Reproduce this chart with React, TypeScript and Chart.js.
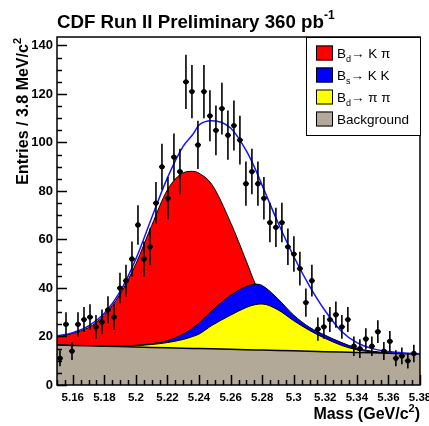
import React, { useEffect, useRef } from 'react';
import { Chart, registerables } from 'chart.js';

Chart.register(...registerables);

// ---------- data ----------
const BIN_START = 5.15;
const BIN_WIDTH = 0.0038;
const counts = [
  11, 25, 14, 25, 27, 28, 24, 26, 31, 28,
  40, 43, 52, 66, 52, 57, 75, 90, 77, 94,
  88, 125, 121, 99, 121, 111, 105, 114, 103, 107,
  101, 83, 88, 83, 77, 67, 65, 67, 57, 54,
  48, 34, 43, 23, 24, 27, 29, 24, 27, 16,
  15, 19, 16, 22, 14, 18, 11, 12, 10, 13,
];

const gridX = [5.15, 5.16, 5.17, 5.18, 5.19, 5.2, 5.21, 5.22, 5.23, 5.236, 5.24, 5.248, 5.26, 5.27, 5.276, 5.28, 5.29, 5.3, 5.31, 5.32, 5.33, 5.34, 5.35, 5.36, 5.37, 5.38];
const bkgY = [16.5, 16.3, 16.2, 16.0, 15.9, 15.7, 15.5, 15.4, 15.2, 15.1, 15.0, 14.9, 14.7, 14.5, 14.45, 14.4, 14.2, 14.1, 13.9, 13.7, 13.6, 13.4, 13.3, 13.1, 12.9, 12.8];
const pipiY = [16.5, 16.3, 16.2, 16.0, 16.0, 16.2, 16.7, 17.5, 18.8, 20.0, 21.0, 24.5, 28.8, 32.0, 33.2, 33.4, 31.0, 26.5, 22.5, 19.2, 16.4, 14.5, 13.6, 13.2, 12.9, 12.8];
const kkY = [16.5, 16.3, 16.2, 16.1, 16.1, 16.4, 17.0, 18.3, 21.0, 23.5, 25.5, 30.5, 37.0, 40.6, 41.6, 41.0, 35.5, 28.8, 23.8, 20.5, 17.6, 15.2, 13.9, 13.3, 12.95, 12.8];
const kpiY = [19.8, 21.3, 23.7, 28.8, 37.5, 50.0, 65.8, 80.5, 87.5, 88.1, 87.3, 82.8, 67.0, 51.0, 41.2, 37.0, 27.0, 20.5, 17.0, 15.3, 14.5, 13.8, 13.4, 13.1, 12.9, 12.8];
const fitY = [20.2, 21.6, 24.4, 29.6, 38.5, 52.0, 69.0, 85.5, 98.5, 103.3, 107.2, 109.0, 106.0, 96.5, 88.5, 82.3, 67.0, 53.0, 40.8, 30.5, 22.3, 17.5, 15.0, 13.8, 13.2, 12.9];

const xMajorTicks = [5.16, 5.18, 5.2, 5.22, 5.24, 5.26, 5.28, 5.3, 5.32, 5.34, 5.36, 5.38];
const yMajorTicks = [0, 20, 40, 60, 80, 100, 120, 140];
const X_MIN = 5.15;
const X_MAX = 5.38;
const Y_MIN = 0;
const Y_MAX = 143.5;
const X_MINOR_STEP = 0.005;
const Y_MINOR_STEP = 5;

const RED = '#ff0000';
const BLUE = '#0000ff';
const YELLOW = '#ffff00';
const TAN = '#b3a999';
const FIT = '#1414ff';

const legendItems = [
  { main: 'B', sub: 'd', rest: '\u2192 K \u03c0', color: RED },
  { main: 'B', sub: 's', rest: '\u2192 K K', color: BLUE },
  { main: 'B', sub: 'd', rest: '\u2192 \u03c0 \u03c0', color: YELLOW },
  { main: 'Background', sub: '', rest: '', color: TAN },
];

const TITLE = 'CDF Run II Preliminary 360 pb';
const TITLE_SUP = '-1';
const X_TITLE = ['Mass (GeV/c', '2', ')'];
const Y_TITLE = ['Entries / 3.8 MeV/c', '2'];

const FONT = '"Liberation Sans", Arial, Helvetica, sans-serif';

type Part = { t: string; size: number; bold?: boolean; dy?: number };

function partsWidth(ctx: CanvasRenderingContext2D, parts: Part[]) {
  let w = 0;
  for (const p of parts) {
    ctx.font = `${p.bold ? 'bold ' : ''}${p.size}px ${FONT}`;
    w += ctx.measureText(p.t).width;
  }
  return w;
}
function drawParts(ctx: CanvasRenderingContext2D, x: number, y: number, parts: Part[]) {
  let cx = x;
  for (const p of parts) {
    ctx.font = `${p.bold ? 'bold ' : ''}${p.size}px ${FONT}`;
    ctx.fillText(p.t, cx, y + (p.dy || 0));
    cx += ctx.measureText(p.t).width;
  }
}

const curve = (ys: number[]) => gridX.map((x, i) => ({ x, y: ys[i] }));

const rootStyle = {
  id: 'rootStyle',
  afterDatasetsDraw(chart: any) {
    const ctx: CanvasRenderingContext2D = chart.ctx;
    const xs = chart.scales.x;
    const ys = chart.scales.y;
    ctx.save();
    ctx.strokeStyle = '#000';
    ctx.lineWidth = 1.6;
    counts.forEach((c, i) => {
      const xc = BIN_START + (i + 0.5) * BIN_WIDTH;
      const px = xs.getPixelForValue(xc);
      const py = ys.getPixelForValue(c);
      const e = Math.sqrt(c);
      ctx.beginPath();
      ctx.moveTo(px, ys.getPixelForValue(c - e));
      ctx.lineTo(px, ys.getPixelForValue(c + e));
      ctx.moveTo(xs.getPixelForValue(xc - BIN_WIDTH / 2), py);
      ctx.lineTo(xs.getPixelForValue(xc + BIN_WIDTH / 2), py);
      ctx.stroke();
    });
    ctx.restore();
  },
  afterDraw(chart: any) {
    const ctx: CanvasRenderingContext2D = chart.ctx;
    const xs = chart.scales.x;
    const ys = chart.scales.y;
    const a = chart.chartArea;
    ctx.save();
    ctx.strokeStyle = '#000';
    ctx.fillStyle = '#000';
    // ticks
    ctx.lineWidth = 1.5;
    ctx.beginPath();
    for (let v = Y_MIN; v <= Y_MAX + 1e-9; v += Y_MINOR_STEP) {
      const major = yMajorTicks.some((t) => Math.abs(t - v) < 1e-6);
      const py = Math.round(ys.getPixelForValue(v)) + 0.5;
      ctx.moveTo(a.left, py);
      ctx.lineTo(a.left + (major ? 10 : 5), py);
    }
    const nMinor = Math.round((X_MAX - X_MIN) / X_MINOR_STEP);
    for (let k = 0; k <= nMinor; k++) {
      const v = X_MIN + k * X_MINOR_STEP;
      const major = xMajorTicks.some((t) => Math.abs(t - v) < 1e-6);
      const px = Math.round(xs.getPixelForValue(v)) + 0.5;
      ctx.moveTo(px, a.bottom);
      ctx.lineTo(px, a.bottom - (major ? 10 : 5));
    }
    ctx.stroke();
    // frame
    ctx.lineWidth = 1.5;
    ctx.strokeRect(a.left, a.top, a.right - a.left, a.bottom - a.top);

    // legend
    const lx = 306;
    const lw = a.right - lx;
    const lt = a.top;
    const lh = 98;
    ctx.fillStyle = '#fff';
    ctx.fillRect(lx, lt, lw, lh);
    ctx.lineWidth = 1;
    ctx.strokeRect(lx + 0.5, lt + 0.5, lw, lh);
    legendItems.forEach((it, i) => {
      const cy = 53 + i * 22;
      ctx.fillStyle = it.color;
      ctx.fillRect(316, cy - 7.5, 17, 15);
      ctx.strokeStyle = '#000';
      ctx.lineWidth = 1;
      ctx.strokeRect(316.5, cy - 7, 16, 14);
      ctx.fillStyle = '#000';
      ctx.textBaseline = 'alphabetic';
      const parts: Part[] = [{ t: it.main, size: 13.5 }];
      if (it.sub) parts.push({ t: it.sub, size: 9, dy: 4 });
      if (it.rest) parts.push({ t: it.rest, size: 13.5 });
      drawParts(ctx, 337, cy + 5, parts);
    });

    // title
    ctx.fillStyle = '#000';
    ctx.textBaseline = 'alphabetic';
    const tParts: Part[] = [
      { t: TITLE, size: 18.7, bold: true },
      { t: TITLE_SUP, size: 12, bold: true, dy: -9 },
    ];
    drawParts(ctx, 57, 28, tParts);

    // x title
    const xParts: Part[] = [
      { t: X_TITLE[0], size: 16, bold: true },
      { t: X_TITLE[1], size: 11, bold: true, dy: -7 },
      { t: X_TITLE[2], size: 16, bold: true },
    ];
    const xw = partsWidth(ctx, xParts);
    drawParts(ctx, a.right - xw, 419, xParts);

    // y title
    const yParts: Part[] = [
      { t: Y_TITLE[0], size: 16, bold: true },
      { t: Y_TITLE[1], size: 11, bold: true, dy: -7 },
    ];
    const yw = partsWidth(ctx, yParts);
    ctx.translate(28, a.top + 1);
    ctx.rotate(-Math.PI / 2);
    drawParts(ctx, -yw, 0, yParts);
    ctx.restore();
  },
};

export default function App() {
  const ref = useRef<HTMLCanvasElement>(null);
  useEffect(() => {
    const canvas = ref.current;
    if (!canvas) return;
    const tickFont = { family: FONT, weight: 'bold' as const, size: 13 };
    const chart = new Chart(canvas, {
      type: 'scatter',
      data: {
        datasets: [
          {
            type: 'scatter',
            data: counts.map((c, i) => ({ x: BIN_START + (i + 0.5) * BIN_WIDTH, y: c })),
            pointRadius: 2.6,
            pointBackgroundColor: '#000',
            pointBorderWidth: 0,
            order: 0,
          } as any,
          {
            type: 'line',
            data: curve(fitY),
            borderColor: FIT,
            borderWidth: 1.5,
            pointRadius: 0,
            fill: false,
            cubicInterpolationMode: 'monotone',
            order: 1,
          } as any,
          {
            type: 'line',
            data: curve(bkgY),
            borderColor: '#000',
            borderWidth: 1.5,
            backgroundColor: TAN,
            fill: 'origin',
            pointRadius: 0,
            order: 2,
          } as any,
          {
            type: 'line',
            data: curve(pipiY),
            borderColor: '#000',
            borderWidth: 1,
            backgroundColor: YELLOW,
            fill: 2,
            pointRadius: 0,
            cubicInterpolationMode: 'monotone',
            order: 3,
          } as any,
          {
            type: 'line',
            data: curve(kkY),
            borderColor: '#000',
            borderWidth: 1,
            backgroundColor: BLUE,
            fill: 2,
            pointRadius: 0,
            cubicInterpolationMode: 'monotone',
            order: 4,
          } as any,
          {
            type: 'line',
            data: curve(kpiY),
            borderColor: '#000',
            borderWidth: 1,
            backgroundColor: RED,
            fill: 2,
            pointRadius: 0,
            cubicInterpolationMode: 'monotone',
            order: 5,
          } as any,
        ],
      },
      options: {
        responsive: false,
        animation: false,
        events: [],
        layout: { padding: { top: 37, right: 9, left: 0, bottom: 0 } },
        plugins: {
          legend: { display: false },
          tooltip: { enabled: false },
          title: { display: false },
        },
        scales: {
          x: {
            type: 'linear',
            min: X_MIN,
            max: X_MAX,
            grid: { display: false, drawTicks: false },
            border: { display: false },
            afterBuildTicks: (s: any) => {
              s.ticks = xMajorTicks.map((v) => ({ value: v }));
            },
            afterFit: (s: any) => {
              s.height = 41;
              s.paddingLeft = 0;
              s.paddingRight = 0;
            },
            ticks: {
              color: '#000',
              font: { ...tickFont, size: 11.5 },
              padding: 6,
              maxRotation: 0,
              autoSkip: false,
              callback: (v: any) => String(Number(Number(v).toFixed(2))),
            },
          },
          y: {
            type: 'linear',
            min: Y_MIN,
            max: Y_MAX,
            grid: { display: false, drawTicks: false },
            border: { display: false },
            afterBuildTicks: (s: any) => {
              s.ticks = yMajorTicks.map((v) => ({ value: v }));
            },
            afterFit: (s: any) => {
              s.width = 57;
              s.paddingTop = 0;
              s.paddingBottom = 0;
            },
            ticks: {
              color: '#000',
              font: tickFont,
              padding: 4,
              autoSkip: false,
              callback: (v: any) => String(v),
            },
          },
        },
      } as any,
      plugins: [rootStyle as any],
    });
    return () => chart.destroy();
  }, []);
  return (
    <div style={{ position: 'fixed', left: 0, top: 0, width: 429, height: 426, background: '#fff' }}>
      <canvas ref={ref} width={429} height={426} style={{ width: 429, height: 426, display: 'block' }} />
    </div>
  );
}
